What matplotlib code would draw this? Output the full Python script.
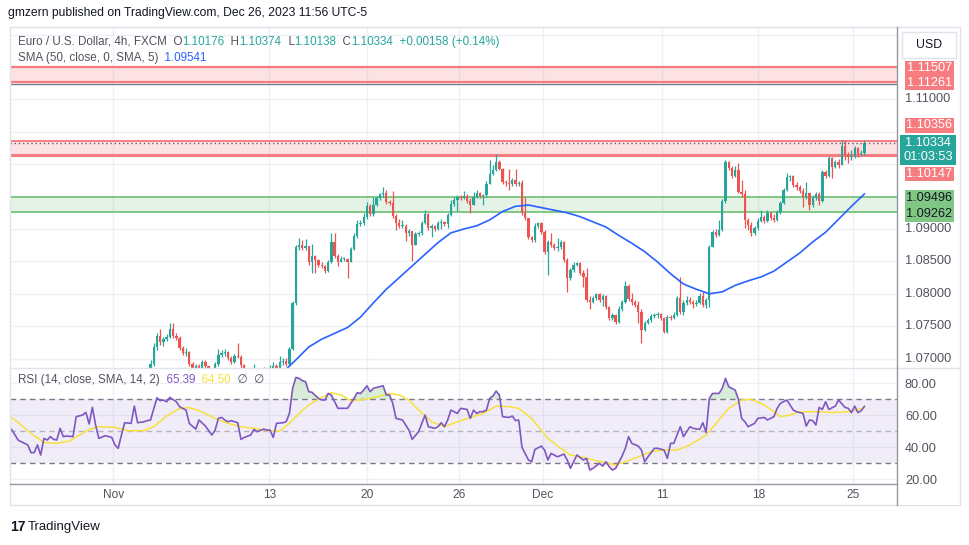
import matplotlib
matplotlib.use("Agg")
import matplotlib.pyplot as plt
import numpy as np
from matplotlib.patches import Rectangle
from matplotlib.lines import Line2D

plt.rcParams["font.family"] = ["Liberation Sans", "DejaVu Sans"]
plt.rcParams["axes.unicode_minus"] = False

W, H = 970, 545

# ---------------- data (EUR/USD 4h, FXCM) ----------------
first_bar = 42          # bar index of the first candle listed below
first_open = 1.0665

closes = [
    1.0670, 1.0692, 1.0718, 1.0735, 1.0726, 1.0730, 1.0733, 1.0746, 1.0735, 1.0732,
    1.0716, 1.0709, 1.0710, 1.0692, 1.0682, 1.0689, 1.0679, 1.0695, 1.0689, 1.0679,
    1.0673, 1.0692, 1.0706, 1.0709, 1.0710, 1.0701, 1.0695, 1.0704, 1.0702, 1.0690,
    1.0679, 1.0675, 1.0676, 1.0676, 1.0673, 1.0679, 1.0682, 1.0679, 1.0682, 1.0689,
    1.0686, 1.0695, 1.0696, 1.0692, 1.0715, 1.0786, 1.0872, 1.0875, 1.0871, 1.0874,
    1.0849, 1.0858, 1.0852, 1.0844, 1.0843, 1.0835, 1.0849, 1.0880, 1.0858, 1.0849,
    1.0854, 1.0854, 1.0849, 1.0869, 1.0889, 1.0908, 1.0909, 1.0919, 1.0935, 1.0923,
    1.0937, 1.0948, 1.0954, 1.0956, 1.0942, 1.0940, 1.0920, 1.0909, 1.0905, 1.0905,
    1.0894, 1.0897, 1.0875, 1.0892, 1.0894, 1.0909, 1.0923, 1.0902, 1.0905, 1.0900,
    1.0909, 1.0911, 1.0908, 1.0922, 1.0939, 1.0945, 1.0949, 1.0948, 1.0951, 1.0943,
    1.0937, 1.0949, 1.0956, 1.0951, 1.0952, 1.0969, 1.0985, 1.0991, 1.1003, 1.0993,
    1.0973, 1.0971, 1.0969, 1.0976, 1.0969, 1.0971, 1.0925, 1.0917, 1.0888, 1.0883,
    1.0905, 1.0909, 1.0895, 1.0865, 1.0880, 1.0875, 1.0871, 1.0872, 1.0880, 1.0852,
    1.0824, 1.0837, 1.0844, 1.0848, 1.0832, 1.0826, 1.0790, 1.0787, 1.0794, 1.0800,
    1.0790, 1.0797, 1.0780, 1.0763, 1.0767, 1.0757, 1.0777, 1.0787, 1.0812, 1.0792,
    1.0787, 1.0783, 1.0772, 1.0744, 1.0755, 1.0760, 1.0766, 1.0767, 1.0769, 1.0763,
    1.0741, 1.0764, 1.0763, 1.0767, 1.0794, 1.0772, 1.0786, 1.0790, 1.0787, 1.0784,
    1.0786, 1.0797, 1.0783, 1.0790, 1.0872, 1.0895, 1.0891, 1.0898, 1.0943, 1.1003,
    1.0994, 1.0982, 1.0991, 1.0957, 1.0954, 1.0914, 1.0906, 1.0894, 1.0902, 1.0912,
    1.0919, 1.0912, 1.0925, 1.0917, 1.0914, 1.0926, 1.0940, 1.0960, 1.0980, 1.0982,
    1.0968, 1.0965, 1.0959, 1.0949, 1.0956, 1.0937, 1.0948, 1.0954, 1.0943, 1.0988,
    1.0982, 1.1010, 1.0996, 1.1003, 1.0999, 1.1028, 1.1014, 1.1011, 1.1013, 1.1025,
    1.1016, 1.10176, 1.10334,
]
highs = [
    1.0679, 1.0698, 1.0724, 1.0740, 1.0746, 1.0733, 1.0738, 1.0755, 1.0755, 1.0740,
    1.0735, 1.0719, 1.0716, 1.0712, 1.0695, 1.0692, 1.0691, 1.0698, 1.0698, 1.0689,
    1.0682, 1.0695, 1.0715, 1.0713, 1.0715, 1.0712, 1.0704, 1.0707, 1.0724, 1.0706,
    1.0692, 1.0682, 1.0686, 1.0692, 1.0682, 1.0684, 1.0687, 1.0686, 1.0690, 1.0695,
    1.0692, 1.0704, 1.0701, 1.0701, 1.0718, 1.0789, 1.0875, 1.0886, 1.0883, 1.0885,
    1.0874, 1.0877, 1.0860, 1.0854, 1.0849, 1.0844, 1.0852, 1.0894, 1.0894, 1.0861,
    1.0858, 1.0857, 1.0855, 1.0872, 1.0894, 1.0914, 1.0914, 1.0925, 1.0942, 1.0939,
    1.0949, 1.0951, 1.0956, 1.0965, 1.0960, 1.0945, 1.0959, 1.0923, 1.0915, 1.0914,
    1.0908, 1.0900, 1.0897, 1.0895, 1.0897, 1.0912, 1.0929, 1.0925, 1.0908, 1.0906,
    1.0912, 1.0915, 1.0912, 1.0925, 1.0945, 1.0949, 1.0952, 1.0952, 1.0959, 1.0954,
    1.0948, 1.0957, 1.0960, 1.0957, 1.0954, 1.0974, 1.1006, 1.0999, 1.1016, 1.1006,
    1.0994, 1.0976, 1.0993, 1.0979, 1.0993, 1.0974, 1.0976, 1.0949, 1.0917, 1.0889,
    1.0909, 1.0911, 1.0911, 1.0898, 1.0883, 1.0894, 1.0878, 1.0886, 1.0883, 1.0882,
    1.0855, 1.0840, 1.0849, 1.0849, 1.0849, 1.0837, 1.0840, 1.0797, 1.0797, 1.0801,
    1.0801, 1.0800, 1.0798, 1.0781, 1.0770, 1.0769, 1.0781, 1.0790, 1.0820, 1.0815,
    1.0801, 1.0790, 1.0789, 1.0777, 1.0758, 1.0763, 1.0769, 1.0770, 1.0772, 1.0770,
    1.0764, 1.0767, 1.0767, 1.0772, 1.0797, 1.0826, 1.0790, 1.0797, 1.0795, 1.0790,
    1.0790, 1.0801, 1.0803, 1.0794, 1.0875, 1.0898, 1.0900, 1.0914, 1.0946, 1.1006,
    1.1005, 1.0997, 1.0997, 1.1002, 1.0976, 1.0960, 1.0917, 1.0911, 1.0905, 1.0917,
    1.0929, 1.0922, 1.0929, 1.0926, 1.0923, 1.0929, 1.0943, 1.0963, 1.0986, 1.0983,
    1.0983, 1.0973, 1.0968, 1.0963, 1.0973, 1.0956, 1.0952, 1.0957, 1.0957, 1.0991,
    1.0991, 1.1013, 1.1011, 1.1006, 1.1008, 1.1037, 1.1037, 1.1019, 1.1022, 1.1028,
    1.1026, 1.1022, 1.10374,
]
lows = [
    1.0664, 1.0670, 1.0689, 1.0713, 1.0721, 1.0719, 1.0727, 1.0732, 1.0732, 1.0729,
    1.0713, 1.0706, 1.0704, 1.0689, 1.0676, 1.0679, 1.0675, 1.0676, 1.0686, 1.0673,
    1.0667, 1.0670, 1.0689, 1.0702, 1.0704, 1.0698, 1.0692, 1.0693, 1.0701, 1.0686,
    1.0670, 1.0667, 1.0670, 1.0667, 1.0667, 1.0670, 1.0673, 1.0675, 1.0676, 1.0679,
    1.0681, 1.0686, 1.0690, 1.0689, 1.0690, 1.0713, 1.0783, 1.0868, 1.0868, 1.0868,
    1.0844, 1.0832, 1.0832, 1.0841, 1.0840, 1.0832, 1.0834, 1.0848, 1.0855, 1.0843,
    1.0849, 1.0851, 1.0824, 1.0849, 1.0868, 1.0886, 1.0905, 1.0906, 1.0915, 1.0920,
    1.0920, 1.0935, 1.0945, 1.0949, 1.0939, 1.0937, 1.0917, 1.0898, 1.0902, 1.0902,
    1.0881, 1.0889, 1.0851, 1.0875, 1.0889, 1.0891, 1.0908, 1.0898, 1.0888, 1.0897,
    1.0898, 1.0900, 1.0905, 1.0902, 1.0920, 1.0935, 1.0928, 1.0945, 1.0946, 1.0940,
    1.0925, 1.0937, 1.0948, 1.0948, 1.0937, 1.0949, 1.0969, 1.0983, 1.0989, 1.0991,
    1.0969, 1.0966, 1.0960, 1.0966, 1.0966, 1.0966, 1.0922, 1.0914, 1.0885, 1.0880,
    1.0880, 1.0902, 1.0892, 1.0861, 1.0829, 1.0872, 1.0868, 1.0866, 1.0869, 1.0849,
    1.0803, 1.0821, 1.0834, 1.0843, 1.0829, 1.0811, 1.0787, 1.0777, 1.0786, 1.0790,
    1.0787, 1.0781, 1.0777, 1.0760, 1.0760, 1.0753, 1.0755, 1.0773, 1.0786, 1.0789,
    1.0783, 1.0780, 1.0755, 1.0724, 1.0743, 1.0753, 1.0756, 1.0763, 1.0763, 1.0760,
    1.0740, 1.0740, 1.0760, 1.0761, 1.0766, 1.0769, 1.0767, 1.0783, 1.0784, 1.0778,
    1.0781, 1.0784, 1.0780, 1.0778, 1.0780, 1.0872, 1.0888, 1.0889, 1.0897, 1.0940,
    1.0991, 1.0979, 1.0980, 1.0956, 1.0949, 1.0902, 1.0898, 1.0889, 1.0891, 1.0898,
    1.0911, 1.0909, 1.0911, 1.0914, 1.0911, 1.0912, 1.0923, 1.0939, 1.0959, 1.0974,
    1.0965, 1.0960, 1.0956, 1.0934, 1.0946, 1.0929, 1.0934, 1.0945, 1.0937, 1.0942,
    1.0979, 1.0980, 1.0979, 1.0994, 1.0994, 1.0999, 1.1006, 1.1002, 1.1006, 1.1010,
    1.1011, 1.1013, 1.10138,
]

# SMA(50) read every 4th bar
sma_bars = list(range(84, 265, 4))
sma_values = [
    1.0679, 1.0698, 1.0718, 1.0730, 1.0739, 1.0748, 1.0764, 1.0786, 1.0807, 1.0825,
    1.0843, 1.0861, 1.0879, 1.0894, 1.0900, 1.0905, 1.0914, 1.0927, 1.0935, 1.0937,
    1.0933, 1.0929, 1.0925, 1.0919, 1.0911, 1.0903, 1.0890, 1.0878, 1.0865, 1.0849,
    1.0831, 1.0815, 1.0807, 1.0800, 1.0803, 1.0813, 1.0820, 1.0826, 1.0835, 1.0849,
    1.0863, 1.0880, 1.0895, 1.0915, 1.0935, 1.09541,
]

rsi_bars = [
    0, 2, 3, 5, 6, 7, 8, 9, 10, 11, 12, 13, 14, 15, 16, 17, 19, 20, 22, 23,
    24, 25, 26, 27, 29, 31, 32, 33, 34, 35, 37, 38, 39, 41, 42, 43, 45, 46, 47, 48,
    49, 51, 52, 54, 55, 57, 58, 60, 62, 63, 64, 65, 66, 67, 68, 70, 71, 72, 74, 75,
    76, 78, 79, 80, 81, 82, 84, 85, 86, 87, 88, 89, 90, 91, 92, 93, 95, 96, 97, 98,
    99, 101, 104, 106, 107, 108, 109, 110, 111, 112, 115, 116, 117, 118, 119, 121, 122, 123, 124, 126,
    128, 129, 131, 132, 133, 134, 135, 136, 138, 139, 141, 142, 143, 144, 145, 146, 147, 148, 149, 150,
    151, 152, 154, 155, 156, 157, 158, 160, 161, 162, 164, 165, 166, 167, 168, 169, 171, 172, 173, 174,
    175, 177, 178, 179, 180, 182, 183, 184, 185, 186, 187, 189, 190, 191, 192, 194, 195, 196, 197, 199,
    200, 202, 203, 204, 205, 207, 208, 210, 211, 213, 214, 215, 216, 217, 219, 220, 221, 222, 224, 225,
    226, 227, 228, 230, 231, 233, 234, 236, 237, 238, 240, 242, 243, 245, 246, 247, 248, 249, 250, 251,
    252, 253, 255, 256, 258, 259, 260, 261, 262, 263, 264,
]
rsi_values = [
    51.0, 44.4, 43.3, 41.3, 36.5, 36.5, 41.3, 35.0, 45.4, 44.4, 46.5, 44.8, 44.4, 51.7, 46.5, 46.9, 46.5, 59.0, 60.0, 61.7,
    54.4, 64.8, 53.8, 45.4, 47.1, 46.0, 41.3, 39.2, 47.5, 55.2, 54.8, 65.6, 55.2, 55.8, 56.5, 56.9, 70.8, 69.0, 69.4, 68.3,
    71.0, 68.3, 65.2, 63.1, 54.8, 51.2, 56.9, 53.1, 47.5, 50.6, 57.9, 58.5, 56.9, 55.8, 56.5, 55.2, 44.8, 46.0, 47.5, 51.0,
    49.6, 51.2, 50.6, 50.6, 46.0, 54.8, 55.2, 55.8, 61.0, 76.7, 83.5, 82.9, 81.5, 80.8, 74.6, 74.2, 70.4, 69.4, 69.4, 73.5,
    72.5, 64.2, 64.2, 70.4, 74.0, 73.5, 75.6, 78.3, 74.6, 76.7, 78.3, 72.5, 72.5, 67.3, 57.9, 56.9, 53.8, 50.6, 44.8, 49.6,
    60.0, 52.7, 51.7, 52.7, 55.2, 52.7, 56.9, 63.1, 61.0, 64.2, 63.5, 57.9, 63.1, 61.0, 62.1, 62.1, 63.1, 70.4, 71.9, 75.0,
    72.5, 59.0, 58.5, 59.4, 56.5, 56.9, 39.8, 31.9, 30.8, 38.5, 40.6, 38.1, 31.9, 36.0, 35.0, 33.9, 35.6, 31.9, 26.7, 30.8,
    35.0, 31.9, 32.9, 25.6, 26.7, 29.8, 28.1, 30.8, 27.7, 25.6, 26.7, 34.4, 39.2, 46.5, 42.3, 40.6, 38.1, 30.8, 33.9, 39.2,
    39.2, 38.1, 32.9, 42.3, 42.3, 52.7, 46.5, 52.7, 51.7, 51.0, 55.2, 49.0, 70.4, 73.5, 73.5, 76.7, 82.9, 77.7, 75.6, 69.8,
    57.9, 55.8, 52.7, 54.8, 57.9, 58.5, 56.9, 59.0, 64.2, 67.3, 69.4, 63.1, 62.1, 61.0, 53.1, 56.9, 56.5, 53.8, 64.8, 63.5,
    68.3, 63.5, 65.6, 69.4, 64.8, 64.2, 61.5, 65.6, 61.5, 62.7, 65.39,
]

rsi_ma_bars = [
    0, 3, 6, 10, 14, 18, 21, 24, 27, 32, 36, 41, 44, 48, 52, 55, 58, 63, 67, 71,
    75, 79, 83, 86, 89, 92, 96, 99, 102, 105, 108, 111, 114, 117, 120, 123, 126, 130, 134, 138,
    142, 146, 150, 154, 157, 161, 166, 170, 173, 177, 181, 184, 187, 190, 194, 198, 202, 206, 210, 215,
    219, 222, 226, 229, 233, 236, 238, 241, 243, 246, 250, 254, 259, 264,
]
rsi_ma_values = [
    58.5, 53.8, 48.5, 42.9, 42.3, 43.8, 47.5, 51.0, 52.7, 52.3, 50.2, 50.2, 52.7, 59.4, 64.2, 64.6, 62.7, 57.9, 54.8, 52.7,
    51.7, 50.2, 50.0, 54.8, 61.0, 66.3, 71.0, 74.0, 72.5, 69.0, 69.4, 70.4, 71.9, 73.5, 72.5, 69.4, 63.1, 55.8, 52.7, 55.8,
    58.5, 61.0, 65.6, 65.2, 64.2, 57.9, 45.4, 39.2, 35.0, 33.5, 31.5, 30.2, 28.8, 30.8, 33.9, 37.1, 38.1, 38.1, 41.3, 47.5,
    56.9, 64.2, 69.4, 69.8, 66.3, 62.1, 59.0, 60.0, 61.5, 62.1, 62.1, 61.5, 62.1, 64.50,
]

zone_top = (1.11261, 1.11507)
zone_resist = (1.10147, 1.10356)
zone_support = (1.09262, 1.09496)
extra_line = 1.1123

date_ticks = [31.5, 79.8, 110.0, 138.4, 164.4, 201.3, 231.2, 260.5]
date_labels = ["Nov", "13", "20", "26", "Dec", "11", "18", "25"]
price_grid = [1.070, 1.075, 1.080, 1.085, 1.090, 1.095, 1.100, 1.105, 1.110, 1.115, 1.120]
price_ticks = [1.070, 1.075, 1.080, 1.085, 1.090, 1.110]
rsi_ticks = [20, 40, 60, 80]

# ---------------- styling ----------------
UP, DOWN = "#26A69A", "#EF5350"
SMA_C, RSI_C, RSI_MA_C = "#2962FF", "#7E57C2", "#F7E03C"
TAG_RED, TAG_GREEN = "#F77C80", "#81C784"
GRID = "#EEF0F5"
DARK, GREY = "#131722", "#50535E"
SCALE_FS = 9.2


def fx(px):
    return px / W


def fy(py):
    return 1 - py / H


fig = plt.figure(figsize=(W / 100, H / 100), dpi=100, facecolor="white")
ax = fig.add_axes([fx(10), fy(368), (897 - 10) / W, (368 - 27) / H])
rx = fig.add_axes([fx(10), fy(484), (897 - 10) / W, (484 - 368) / H])

for a in (ax, rx):
    a.set_xlim(-0.5, 274.1)
    a.set_xticks([])
    a.set_yticks([])
    for s in a.spines.values():
        s.set_visible(False)
    for t in date_ticks:
        a.axvline(t, color=GRID, lw=1, zorder=0)

ax.set_ylim(1.06855, 1.12117)
rx.set_ylim(16.9, 89.4)

# ---- price pane ----
for p in price_grid:
    ax.axhline(p, color=GRID, lw=1, zorder=0)

ax.axhspan(*zone_top, color="#F23645", alpha=0.14, lw=0, zorder=1)
ax.axhline(zone_top[0], color=TAG_RED, lw=1.6, zorder=2)
ax.axhline(zone_top[1], color=TAG_RED, lw=1.6, zorder=2)
ax.axhline(extra_line, color="#787B86", lw=1, zorder=2)

ax.axhspan(*zone_resist, color="#F23645", alpha=0.14, lw=0, zorder=1)
ax.axhline(zone_resist[1], color=TAG_RED, lw=1.4, zorder=2)
ax.axhline(zone_resist[0], color=TAG_RED, lw=2.2, zorder=2)

ax.axhspan(*zone_support, color="#4CAF50", alpha=0.14, lw=0, zorder=1)
ax.axhline(zone_support[0], color=TAG_GREEN, lw=1.4, zorder=2)
ax.axhline(zone_support[1], color=TAG_GREEN, lw=1.4, zorder=2)

c = np.array(closes)
o = np.array([first_open] + closes[:-1])
idx = np.arange(first_bar, first_bar + len(c))
col = np.where(c >= o, UP, DOWN)
ax.vlines(idx, lows, highs, colors=col, lw=0.9, zorder=3)
ax.bar(idx, np.maximum(np.abs(c - o), 0.0001), bottom=np.minimum(o, c),
       width=0.72, color=col, lw=0, zorder=4)

ax.axhline(c[-1], color="#5D606B", lw=1, ls=(0, (1, 2)), zorder=5)
ax.plot(sma_bars, sma_values, color=SMA_C, lw=1.2, zorder=6)

# ---- RSI pane ----
for v in rsi_ticks:
    rx.axhline(v, color=GRID, lw=1, zorder=0)
rx.axhspan(30, 70, color=RSI_C, alpha=0.1, lw=0, zorder=1)
rx.axhline(70, color="#787B86", lw=1, ls=(0, (4, 3)), zorder=2)
rx.axhline(50, color="#787B86", alpha=0.5, lw=1, ls=(0, (4, 3)), zorder=2)
rx.axhline(30, color="#787B86", lw=1, ls=(0, (4, 3)), zorder=2)
rb, rv = np.array(rsi_bars), np.array(rsi_values)
rx.fill_between(rb, rv, 70, where=rv > 70, interpolate=True, color="#4CAF50", alpha=0.22, lw=0, zorder=2)
rx.fill_between(rb, rv, 30, where=rv < 30, interpolate=True, color="#F23645", alpha=0.12, lw=0, zorder=2)
rx.plot(rsi_ma_bars, rsi_ma_values, color=RSI_MA_C, lw=1.1, zorder=3)
rx.plot(rb, rv, color=RSI_C, lw=1.2, zorder=4)

# ---- frame lines ----
fig.add_artist(Rectangle((fx(10), fy(505)), 950 / W, 478 / H, transform=fig.transFigure,
                         fill=False, ec="#E0E3EB", lw=1, zorder=1))
fig.add_artist(Line2D([fx(10), fx(960)], [fy(368), fy(368)], transform=fig.transFigure, color="#E0E3EB", lw=1))
fig.add_artist(Line2D([fx(10), fx(897)], [fy(484), fy(484)], transform=fig.transFigure,
                      color="#9598A1", lw=1, zorder=5))
fig.add_artist(Line2D([fx(897), fx(897)], [fy(27), fy(505)], transform=fig.transFigure,
                      color="#9598A1", lw=1, zorder=5))

r = fig.canvas.get_renderer()


def runs(x_px, y_px, parts, size):
    x = x_px
    for s, colr in parts:
        t = fig.text(fx(x), fy(y_px), s, color=colr, fontsize=size, va="center", ha="left")
        x += t.get_window_extent(renderer=r).width


def tag(text, y_px, fc, tc, x0=905, x1=954, h=14.6):
    fig.add_artist(Rectangle((fx(x0), fy(y_px + h / 2)), (x1 - x0) / W, h / H,
                             transform=fig.transFigure, fc=fc, ec="none", zorder=3))
    fig.text(fx((x0 + x1) / 2), fy(y_px), text, ha="center", va="center",
             color=tc, fontsize=SCALE_FS, zorder=4)


# ---- header texts ----
fig.text(fx(8), fy(13), "gmzern published on TradingView.com, Dec 26, 2023 11:56 UTC-5",
         fontsize=8.7, color=DARK, va="center")
chg = c[-1] - o[-1]
runs(18, 42, [("Euro / U.S. Dollar, 4h, FXCM", GREY), ("  O", GREY), (f"{o[-1]:.5f}", UP),
              ("  H", GREY), (f"{highs[-1]:.5f}", UP), ("  L", GREY), (f"{lows[-1]:.5f}", UP),
              ("  C", GREY), (f"{c[-1]:.5f}", UP),
              (f"  +{chg:.5f} (+{chg / o[-1] * 100:.2f}%)", UP)], 8.4)
runs(18, 58, [("SMA (50, close, 0, SMA, 5)", GREY), (f"  {sma_values[-1]:.5f}", SMA_C)], 8.4)
runs(18, 380, [("RSI (14, close, SMA, 14, 2)", GREY), (f"  {rsi_values[-1]:.2f}", RSI_C),
               (f"  {rsi_ma_values[-1]:.2f}", RSI_MA_C), ("  ∅  ∅", GREY)], 8.4)

# ---- price scale ----
for p in price_ticks:
    yd = ax.transData.transform((0, p))[1]
    fig.text(fx(905), yd / H, f"{p:.5f}", fontsize=SCALE_FS, color=GREY, va="center", ha="left")
for v in rsi_ticks:
    yd = rx.transData.transform((0, v))[1]
    fig.text(fx(905), yd / H - 2 / H, f"{v:.2f}", fontsize=SCALE_FS, color=GREY,
             va="center", ha="left", zorder=2)
fig.add_artist(Rectangle((fx(898), fy(505)), 61 / W, 20.5 / H, transform=fig.transFigure,
                         fc="white", ec="none", zorder=3))

tag(f"{zone_top[1]:.5f}", 68.2, TAG_RED, "white")
tag(f"{zone_top[0]:.5f}", 82.8, TAG_RED, "white")
tag(f"{zone_resist[1]:.5f}", 125.5, TAG_RED, "white")
fig.add_artist(Rectangle((fx(900), fy(165)), 56 / W, 30 / H, transform=fig.transFigure,
                         fc=UP, ec="none", zorder=3))
fig.text(fx(928), fy(143), f"{c[-1]:.5f}", ha="center", va="center", color="white",
         fontsize=SCALE_FS, zorder=4)
fig.text(fx(928), fy(157.5), "01:03:53", ha="center", va="center", color="white",
         fontsize=SCALE_FS, zorder=4)
tag(f"{zone_resist[0]:.5f}", 174, TAG_RED, "white")
tag(f"{zone_support[1]:.5f}", 198, TAG_GREEN, DARK, h=16)
tag(f"{zone_support[0]:.5f}", 214, TAG_GREEN, DARK, h=16)

fig.add_artist(Rectangle((fx(902), fy(58)), 54 / W, 26 / H, transform=fig.transFigure,
                         fc="white", ec="#E0E3EB", lw=1, zorder=3))
fig.text(fx(929), fy(45), "USD", ha="center", va="center", fontsize=8.8, color=DARK, zorder=4)

# ---- time scale ----
for t, lbl in zip(date_ticks, date_labels):
    xd = ax.transData.transform((t, 0))[0]
    fig.text(xd / W, fy(495), lbl, ha="center", va="center", fontsize=8.6, color=GREY)

# ---- footer ----
fig.text(fx(10), fy(527), "17", fontsize=10, fontweight="heavy", color=DARK, va="center")
fig.text(fx(28), fy(527), "TradingView", fontsize=9.5, color=DARK, va="center")

fig.savefig("out.png", dpi=100, facecolor="white")
